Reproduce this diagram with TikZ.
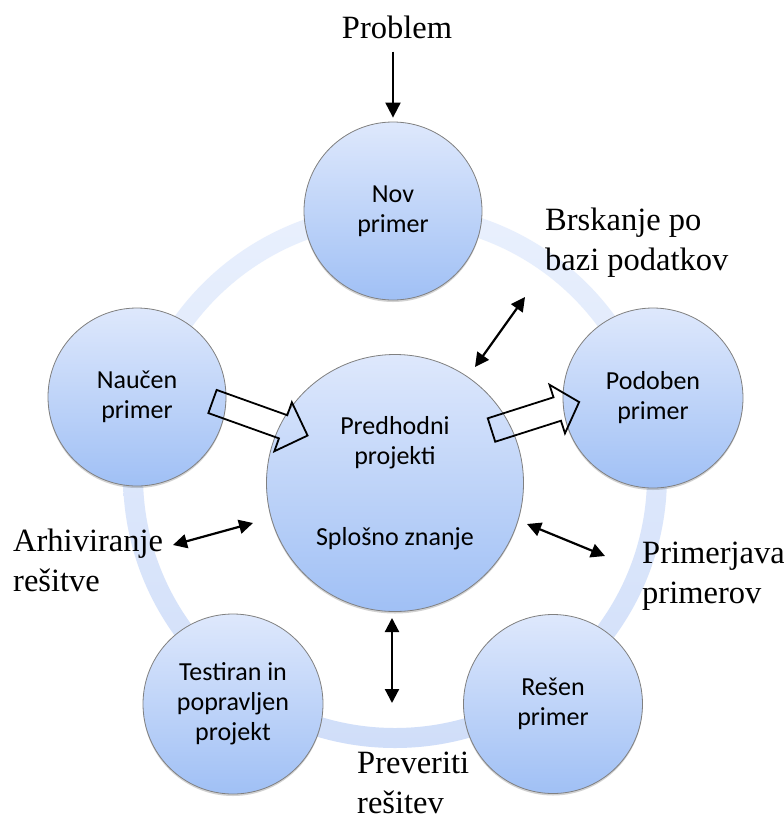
\documentclass[tikz,border=0pt]{standalone}
\usepackage{fontspec}
\setmainfont{Liberation Serif}
\newfontfamily\carlito{Carlito}
\usetikzlibrary{arrows.meta,shadows}
\definecolor{bubtop}{RGB}{222,232,252}
\definecolor{bubbot}{RGB}{160,192,245}
\definecolor{ringtop}{RGB}{233,240,253}
\definecolor{ringbot}{RGB}{208,222,249}
\begin{document}
\begin{tikzpicture}[x=1pt,y=-1pt,
  bubble/.style={circle, draw=black!50, line width=0.8pt, top color=bubtop, bottom color=bubbot,
    align=center, inner sep=0pt, font=\carlito\fontsize{26}{30}\selectfont, text=black,
    drop shadow={shadow xshift=0pt, shadow yshift=-2pt, opacity=0.25, fill=black!70}},
  lbl/.style={font=\fontsize{32.5}{40}\selectfont, inner sep=0pt},
  dbl/.style={{Triangle[length=14pt,width=14pt]}-{Triangle[length=14pt,width=14pt]}, line width=2.2pt},
  onearr/.style={-{Triangle[length=15pt,width=15pt]}, line width=2pt},
  blockarr/.style={draw=black, line width=1.8pt, line join=miter}
]
\useasboundingbox (0,0) rectangle (784,820);
\fill[white] (0,0) rectangle (784,820);

% ring
\coordinate (ringc) at (395,476);
\shade[even odd rule, top color=ringtop, bottom color=ringbot]
  (ringc) circle[radius=272] (ringc) circle[radius=252];

% circles
\node[bubble, minimum size=178pt] (nov) at (393,211) {Nov\\primer};
\node[bubble, minimum size=180pt] (pod) at (653,398) {Podoben\\primer};
\node[bubble, minimum size=179pt] (res) at (553,704) {Rešen\\primer};
\node[bubble, minimum size=180pt] (tes) at (233,704) {Testiran in\\popravljen\\projekt};
\node[bubble, minimum size=178pt] (nau) at (137,397) {Naučen\\primer};
\node[bubble, minimum size=257pt] (pre) at (395,483) {Predhodni\\projekti\\[51pt]Splošno znanje};

% labels
\node[lbl, anchor=base] (prob) at (397,38) {Problem};
\node[lbl, anchor=base west] (brsk) at (545,230) {\begin{tabular}[t]{@{}l@{}}Brskanje po\\bazi podatkov\end{tabular}};
\node[lbl, anchor=base west] (arh) at (13,551) {\begin{tabular}[t]{@{}l@{}}Arhiviranje\\rešitve\end{tabular}};
\node[lbl, anchor=base west] (prim) at (642,563) {\begin{tabular}[t]{@{}l@{}}Primerjava\\primerov\end{tabular}};
\node[lbl, anchor=base west] (prev) at (357,773) {\begin{tabular}[t]{@{}l@{}}Preveriti\\rešitev\end{tabular}};

% problem arrow
\draw[onearr, shorten <=13pt, shorten >=4pt] (prob.south -| nov.north) -- (nov.north);

% double arrows
\coordinate (t1) at (475,367); \coordinate (t2) at (525,297);
\coordinate (l1) at (173,545); \coordinate (l2) at (253,523);
\coordinate (r1) at (527,524); \coordinate (r2) at (605,556);
\coordinate (b1) at (392,618); \coordinate (b2) at (392,703);
\draw[dbl] (t1) -- (t2);
\draw[dbl] (l1) -- (l2);
\draw[dbl] (r1) -- (r2);
\draw[dbl] (b1) -- (b2);

% block arrows (outline only)
\begin{scope}[shift={(212.5,401.5)}, rotate=-19.7]
  \draw[blockarr] (0,-12.3) -- (75,-12.3) -- (75,-26) -- (101,0) -- (75,26) -- (75,12.3) -- (0,12.3) -- cycle;
\end{scope}
\begin{scope}[shift={(491.5,430)}, rotate=17.7]
  \draw[blockarr] (0,-12.3) -- (69,-12.3) -- (69,-25.5) -- (92,0) -- (69,25.5) -- (69,12.3) -- (0,12.3) -- cycle;
\end{scope}
\end{tikzpicture}
\end{document}
